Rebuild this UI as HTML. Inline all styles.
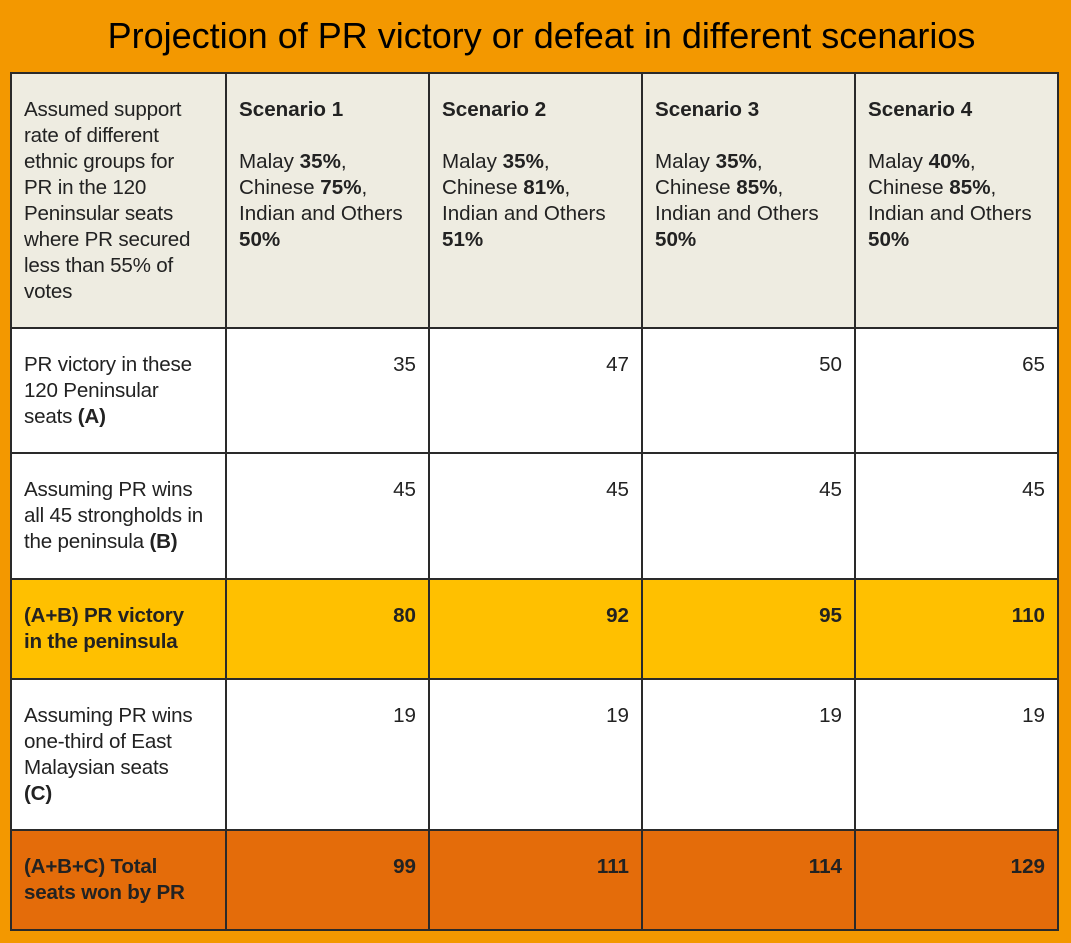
<!DOCTYPE html>
<html><head><meta charset="utf-8"><style>
body{margin:0;width:1071px;height:943px;background:#F39800;font-family:"Liberation Sans",Arial,sans-serif;overflow:hidden;position:relative}
h1{position:absolute;left:0;top:14px;width:1083px;margin:0;text-align:center;font-weight:normal;font-size:36px;color:#000;line-height:44px}
table{position:absolute;left:10px;top:72px;border-collapse:collapse;color:#222;font-size:20.6px;line-height:26px;table-layout:fixed;width:1047px}
td{border:2px solid #2a2a2a;vertical-align:top;padding:23px 12px 0 12px;box-sizing:border-box;overflow:hidden}
td:first-child{white-space:nowrap;letter-spacing:-0.2px}
.n{text-align:right}
.h td{background:#EEECE1}
.w td{background:#fff}
.y td{background:#FFC000;font-weight:bold}
.o td{background:#E46C0A;font-weight:bold}
</style></head><body>
<h1>Projection of PR victory or defeat in different scenarios</h1>
<table>
<colgroup><col style="width:215px"><col style="width:203px"><col style="width:213px"><col style="width:213px"><col style="width:203px"></colgroup>
<tr class="h" style="height:255px"><td>Assumed support<br>rate of different<br>ethnic groups for<br>PR in the 120<br>Peninsular seats<br>where PR secured<br>less than 55% of<br>votes</td>
<td><b>Scenario 1</b><br><br>Malay <b>35%</b>,<br>Chinese <b>75%</b>,<br>Indian and Others <b>50%</b></td>
<td><b>Scenario 2</b><br><br>Malay <b>35%</b>,<br>Chinese <b>81%</b>,<br>Indian and Others <b>51%</b></td>
<td><b>Scenario 3</b><br><br>Malay <b>35%</b>,<br>Chinese <b>85%</b>,<br>Indian and Others <b>50%</b></td>
<td><b>Scenario 4</b><br><br>Malay <b>40%</b>,<br>Chinese <b>85%</b>,<br>Indian and Others <b>50%</b></td></tr>
<tr class="w" style="height:125px"><td>PR victory in these<br>120 Peninsular<br>seats <b>(A)</b></td><td class="n">35</td><td class="n">47</td><td class="n">50</td><td class="n">65</td></tr>
<tr class="w" style="height:126px"><td>Assuming PR wins<br>all 45 strongholds in<br>the peninsula <b>(B)</b></td><td class="n">45</td><td class="n">45</td><td class="n">45</td><td class="n">45</td></tr>
<tr class="y" style="height:100px"><td>(A+B) PR victory<br>in the peninsula</td><td class="n">80</td><td class="n">92</td><td class="n">95</td><td class="n">110</td></tr>
<tr class="w" style="height:151px"><td>Assuming PR wins<br>one-third of East<br>Malaysian seats<br><b>(C)</b></td><td class="n">19</td><td class="n">19</td><td class="n">19</td><td class="n">19</td></tr>
<tr class="o" style="height:100px"><td>(A+B+C) Total<br>seats won by PR</td><td class="n">99</td><td class="n">111</td><td class="n">114</td><td class="n">129</td></tr>
</table>
</body></html>
